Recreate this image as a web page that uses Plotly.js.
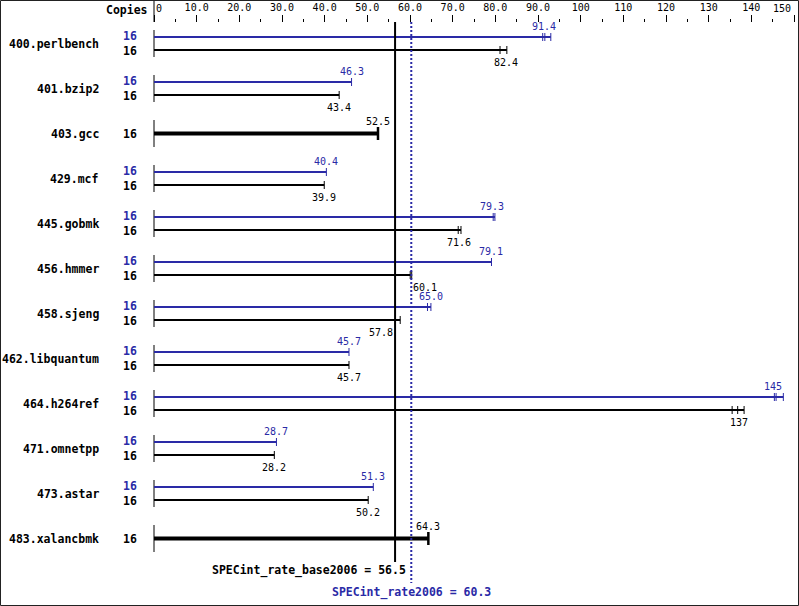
<!DOCTYPE html>
<html>
<head>
<meta charset="utf-8">
<script src="https://cdn.plot.ly/plotly-3.0.1.min.js"></script>
<style>html,body{margin:0;padding:0;background:#fff}#chart{width:799px;height:606px}</style>
</head>
<body>
<div id="chart"></div>
<script>
// ---- data ----
const benchmarks = ["400.perlbench","401.bzip2","403.gcc","429.mcf","445.gobmk","456.hmmer",
  "458.sjeng","462.libquantum","464.h264ref","471.omnetpp","473.astar","483.xalancbmk"];
const copiesPeak = [16,16,null,16,16,16,16,16,16,16,16,null];
const copiesBase = [16,16,16,16,16,16,16,16,16,16,16,16];
const peakMedian = [91.4,46.3,null,40.4,79.3,79.1,65.0,45.7,145,28.7,51.3,null];
const baseMedian = [82.4,43.4,52.5,39.9,71.6,60.1,57.8,45.7,137,28.2,50.2,64.3];
const peakRuns = [[91.1,91.6,93.0],[46.3],null,[40.4],[79.5,79.9],[79.1],[64.1,64.9],[45.7],
  [145.4,145.8,147.5],[28.7],[51.4],null];
const baseRuns = [[81.1,82.7],[43.4],[52.5],[39.9],[71.3,71.95],[60.05,60.4],[57.7],[45.7],
  [135.5,136.8,138.3],[28.2],[50.2],[64.3]];
const baseScore = 56.5;
const peakScore = 60.3;
const baseTitle = "SPECint_rate_base2006";
const peakTitle = "SPECint_rate2006";
const xTickVals = [0,10,20,30,40,50,60,70,80,90,100,110,120,130,140,150];
const xTickText = ["0","10.0","20.0","30.0","40.0","50.0","60.0","70.0","80.0","90.0","100","110","120","130","140","150"];
const xMinorVals = [5,15,25,35,45,55,65,75,85,95,105,115,125,135,145];

// ---- style ----
const W = 799, H = 606;
const BLUE = '#2a2aa6', BLACK = '#000000';
const MONO = 'DejaVu Sans Mono';
const OFF = 6.5/45;          // half spacing between peak/base bars (row units)
const labelShift = {5: 15, 6: -20}; // base labels moved off the score lines
const pxX = p => p / W, pxY = p => 1 - p / H;

function fmt(v){ return v >= 100 ? String(Math.round(v)) : v.toFixed(1); }

const traces = [];
const annotations = [];

// axis stubs per benchmark
const stub = {x:[], y:[]};
benchmarks.forEach((b,i)=>{ stub.x.push(0,0,null); stub.y.push(i-0.3,i+0.3,null); });
traces.push({x:stub.x, y:stub.y, mode:'lines', line:{color:BLACK,width:1}, hoverinfo:'skip'});

function addBar(runs, y, color, width, capH, capW){
  const end = Math.max(...runs);
  traces.push({x:[0,end], y:[y,y], mode:'lines', line:{color:color,width:width}, hoverinfo:'skip'});
  const cx=[], cy=[];
  runs.forEach(r=>{ cx.push(r,r,null); cy.push(y-capH,y+capH,null); });
  traces.push({x:cx, y:cy, mode:'lines', line:{color:color,width:capW}, hoverinfo:'skip'});
}

benchmarks.forEach((b,i)=>{
  annotations.push({text:b, xref:'paper', x:pxX(101), xanchor:'right', yref:'y', y:i, yanchor:'middle',
    showarrow:false, font:{family:MONO,size:11.5,weight:'bold',color:BLACK}});
  if (peakMedian[i] === null){
    addBar(baseRuns[i], i, BLACK, 4, 6.5/45, 2.5);
    annotations.push({text:String(copiesBase[i]), xref:'paper', x:pxX(139), xanchor:'right', yref:'y', y:i,
      yanchor:'middle', showarrow:false, font:{family:MONO,size:11.5,weight:'bold',color:BLACK}});
    annotations.push({text:fmt(baseMedian[i]), x:baseMedian[i], xanchor:'center', yref:'y', y:i, yanchor:'middle',
      yshift:12, showarrow:false, font:{family:MONO,size:10,color:BLACK}});
  } else {
    addBar(peakRuns[i], i-OFF, BLUE, 2, 4/45, 1);
    addBar(baseRuns[i], i+OFF, BLACK, 2, 4/45, 1);
    annotations.push({text:String(copiesPeak[i]), xref:'paper', x:pxX(139), xanchor:'right', yref:'y', y:i-OFF-0.03,
      yanchor:'middle', showarrow:false, font:{family:MONO,size:11.5,weight:'bold',color:BLUE}});
    annotations.push({text:String(copiesBase[i]), xref:'paper', x:pxX(139), xanchor:'right', yref:'y', y:i+OFF+0.02,
      yanchor:'middle', showarrow:false, font:{family:MONO,size:11.5,weight:'bold',color:BLACK}});
    annotations.push({text:fmt(peakMedian[i]), x:peakMedian[i], xanchor:'center', yref:'y', y:i-OFF, yanchor:'middle',
      yshift:11, showarrow:false, font:{family:MONO,size:10,color:BLUE}});
    annotations.push({text:fmt(baseMedian[i]), x:baseMedian[i], xanchor:'center', yref:'y', y:i+OFF, yanchor:'middle',
      yshift:-12, xshift:labelShift[i]||0, showarrow:false, font:{family:MONO,size:10,color:BLACK}});
  }
});

// header and edge tick labels
annotations.push({text:'Copies', xref:'paper', x:pxX(150), xanchor:'right', yref:'paper', y:pxY(10), yanchor:'middle',
  showarrow:false, font:{family:MONO,size:11.5,weight:'bold',color:BLACK}});
annotations.push({text:xTickText[0], x:xTickVals[0], xanchor:'left', xshift:0, yref:'paper', y:pxY(8), yanchor:'middle',
  showarrow:false, font:{family:MONO,size:10,color:BLACK}});
annotations.push({text:xTickText[xTickText.length-1], x:xTickVals[xTickVals.length-1], xanchor:'right', xshift:-1,
  yref:'paper', y:pxY(8), yanchor:'middle', showarrow:false, font:{family:MONO,size:10,color:BLACK}});
// score labels
annotations.push({text:baseTitle+' = '+baseScore.toFixed(1), x:baseScore, xanchor:'right', xshift:13,
  yref:'paper', y:pxY(570), yanchor:'middle', showarrow:false, font:{family:MONO,size:11.5,weight:'bold',color:BLACK}});
annotations.push({text:peakTitle+' = '+peakScore.toFixed(1), x:peakScore, xanchor:'center',
  yref:'paper', y:pxY(592), yanchor:'middle', showarrow:false, font:{family:MONO,size:11.5,weight:'bold',color:BLUE}});

const shapes = [
  {type:'line', xref:'x', yref:'paper', x0:baseScore, x1:baseScore, y0:pxY(22), y1:pxY(562), line:{color:BLACK,width:2}},
  {type:'line', xref:'x', yref:'paper', x0:peakScore, x1:peakScore, y0:pxY(22), y1:pxY(583), line:{color:BLUE,width:2,dash:'2px,2px'}},
  {type:'line', xref:'x', yref:'paper', x0:0, x1:0, y0:1, y1:pxY(22), line:{color:BLACK,width:1}},
  {type:'rect', xref:'paper', yref:'paper', x0:0.5/W, x1:1-0.5/W, y0:0.5/H, y1:1-0.5/H, line:{color:'#222',width:1}}
];

const pxPerUnit = 640/150, zeroPx = 154;
const layout = {
  width:W, height:H, margin:{l:0,r:0,t:0,b:0}, paper_bgcolor:'#fff', plot_bgcolor:'#fff',
  showlegend:false,
  xaxis:{range:[-zeroPx/pxPerUnit, (W-zeroPx)/pxPerUnit], side:'top', anchor:'free', position:pxY(22),
    showgrid:false, zeroline:false, showline:false, ticks:'outside', ticklen:7, tickwidth:1, tickcolor:BLACK,
    tickmode:'array', tickvals:xTickVals, ticktext:xTickText.map((t,k)=> (k===0||k===xTickText.length-1)?'':t),
    tickfont:{family:MONO,size:10,color:BLACK}, fixedrange:true,
    minor:{tickmode:'array', tickvals:xMinorVals, ticks:'outside', ticklen:3, tickwidth:1, tickcolor:BLACK, showgrid:false}},
  yaxis:{range:[(H-43.5)/45, -43.5/45], visible:false, fixedrange:true},
  shapes:shapes, annotations:annotations
};
Plotly.newPlot('chart', traces, layout, {staticPlot:true, displayModeBar:false});
</script>
</body>
</html>
